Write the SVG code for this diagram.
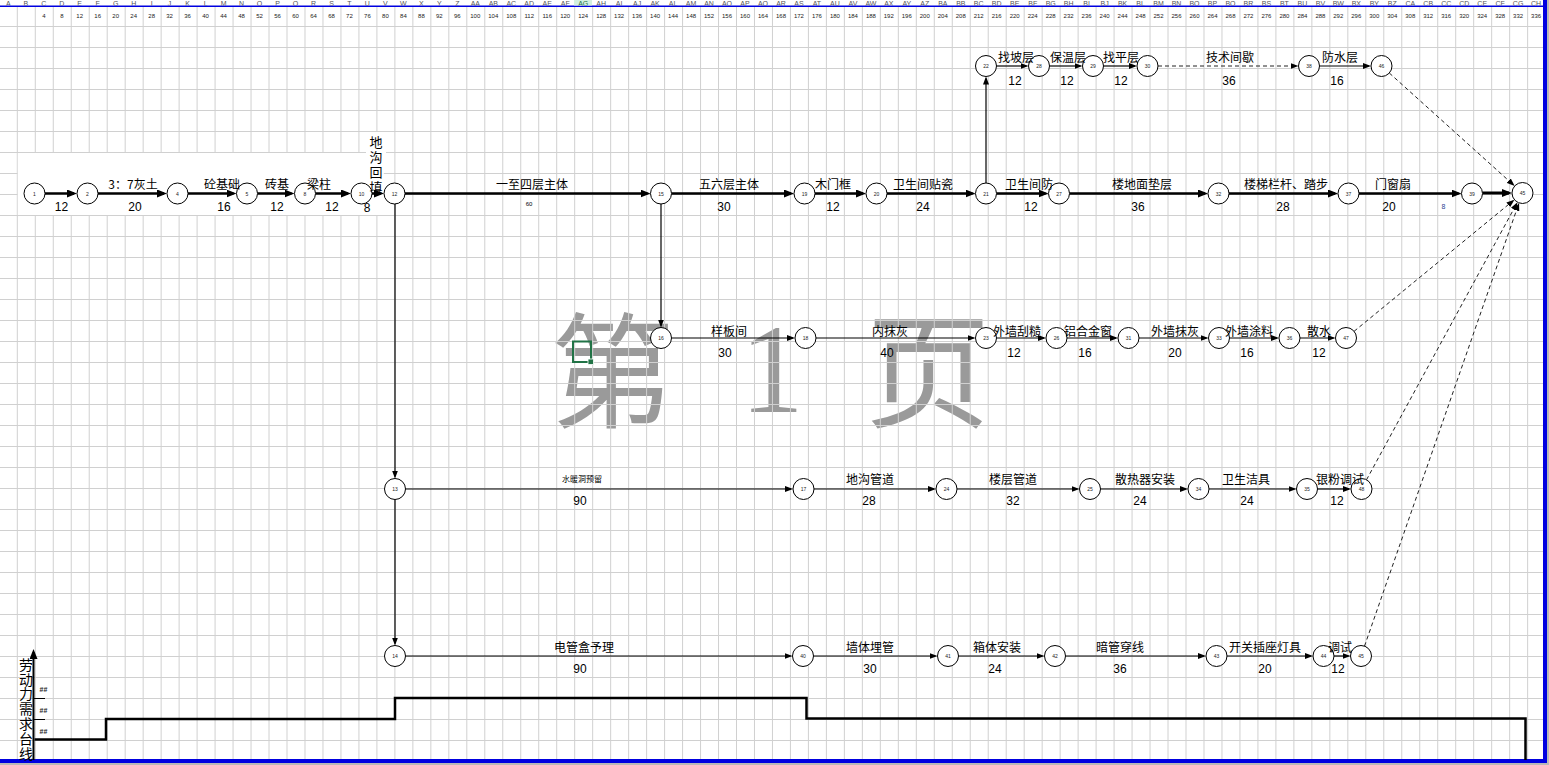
<svg xmlns="http://www.w3.org/2000/svg" width="1549" height="765" viewBox="0 0 1549 765">
<defs>
<style>
.nd circle{fill:#fff;stroke:#000;stroke-width:1}
.nd text{font-family:"Liberation Sans",sans-serif;font-size:5px;text-anchor:middle;fill:#222}
.t{font-family:"Noto Sans CJK SC",sans-serif;font-size:12px;text-anchor:middle;fill:#000}
.n{font-family:"Liberation Sans",sans-serif;font-size:12px;text-anchor:middle;fill:#000}
.hd{font-family:"Liberation Sans",sans-serif;font-size:7px;text-anchor:middle;fill:#555}
.hn{font-family:"Liberation Sans",sans-serif;font-size:6px;text-anchor:middle;fill:#222}
.thk{stroke:#000;stroke-width:2.5;fill:none;marker-end:url(#at)}
.thn{stroke:#000;stroke-width:1.2;fill:none;marker-end:url(#an)}
.dsh{stroke:#222;stroke-width:1;stroke-dasharray:4 3;fill:none;marker-end:url(#an)}
.wm{font-family:"Noto Sans CJK SC",sans-serif;font-size:125px;fill:#9a9a9a;text-anchor:middle}
</style>
<marker id="at" viewBox="0 0 10 8" refX="7" refY="4" markerWidth="10" markerHeight="8" markerUnits="userSpaceOnUse" orient="auto"><path d="M0,0 L10,4 L0,8 z" fill="#000"/></marker>
<marker id="an" viewBox="0 0 8 6" refX="6" refY="3" markerWidth="8" markerHeight="6" markerUnits="userSpaceOnUse" orient="auto"><path d="M0,0 L8,3 L0,6 z" fill="#000"/></marker>
<pattern id="g" x="16.8" y="26" width="17.98" height="21" patternUnits="userSpaceOnUse"><rect width="1" height="21" fill="#d0d0d0"/><rect width="17.98" height="1" fill="#d0d0d0"/></pattern>
<pattern id="gv" x="16.8" y="0" width="17.98" height="26" patternUnits="userSpaceOnUse"><rect width="1" height="26" fill="#d0d0d0"/></pattern>
<clipPath id="hc"><rect x="0" y="0" width="1543" height="5.5"/></clipPath>
<clipPath id="wc"><rect x="990" y="170" width="63" height="30"/></clipPath>
</defs>
<rect width="1549" height="765" fill="#fff"/>
<g id="watermark">
<text class="wm" x="612" y="418">第</text>
<text class="wm" x="772" y="412" style="font-family:'Liberation Serif',serif;font-size:128px">1</text>
<text class="wm" x="928" y="418">页</text>
</g>
<g id="grid">
<rect x="0" y="26" width="1543" height="734" fill="url(#g)"/>
<rect x="0" y="6" width="1543" height="20" fill="url(#gv)"/>
<rect x="17.8" y="153" width="366" height="62" fill="#fff"/>
<rect x="366" y="132" width="20" height="21" fill="#fff"/>
<rect x="0" y="5.5" width="1543" height="1.5" fill="#0000e0"/>
<rect x="1543" y="0" width="4" height="765" fill="#0000e0"/>
<rect x="1547" y="0" width="2" height="765" fill="#b8b8b8"/>
<rect x="0" y="759" width="1547" height="4" fill="#0000e0"/>
<rect x="0" y="763" width="1549" height="2" fill="#b8b8b8"/>
<rect x="574" y="0" width="18" height="5.5" fill="#d3f0e0"/>
</g>
<g id="header" clip-path="url(#hc)">
<text class="hd" x="8.4" y="6">A</text><text class="hd" x="25.8" y="6">B</text><text class="hd" x="43.8" y="6">C</text><text class="hd" x="61.8" y="6">D</text><text class="hd" x="79.7" y="6">E</text><text class="hd" x="97.7" y="6">F</text><text class="hd" x="115.7" y="6">G</text><text class="hd" x="133.7" y="6">H</text><text class="hd" x="151.7" y="6">I</text><text class="hd" x="169.6" y="6">J</text><text class="hd" x="187.6" y="6">K</text><text class="hd" x="205.6" y="6">L</text><text class="hd" x="223.6" y="6">M</text><text class="hd" x="241.6" y="6">N</text><text class="hd" x="259.5" y="6">O</text><text class="hd" x="277.5" y="6">P</text><text class="hd" x="295.5" y="6">Q</text><text class="hd" x="313.5" y="6">R</text><text class="hd" x="331.5" y="6">S</text><text class="hd" x="349.4" y="6">T</text><text class="hd" x="367.4" y="6">U</text><text class="hd" x="385.4" y="6">V</text><text class="hd" x="403.4" y="6">W</text><text class="hd" x="421.4" y="6">X</text><text class="hd" x="439.3" y="6">Y</text><text class="hd" x="457.3" y="6">Z</text><text class="hd" x="475.3" y="6">AA</text><text class="hd" x="493.3" y="6">AB</text><text class="hd" x="511.3" y="6">AC</text><text class="hd" x="529.2" y="6">AD</text><text class="hd" x="547.2" y="6">AE</text><text class="hd" x="565.2" y="6">AF</text><text class="hd" x="583.2" y="6" style="fill:#217346">AG</text><text class="hd" x="601.2" y="6">AH</text><text class="hd" x="619.1" y="6">AI</text><text class="hd" x="637.1" y="6">AJ</text><text class="hd" x="655.1" y="6">AK</text><text class="hd" x="673.1" y="6">AL</text><text class="hd" x="691.1" y="6">AM</text><text class="hd" x="709" y="6">AN</text><text class="hd" x="727" y="6">AO</text><text class="hd" x="745" y="6">AP</text><text class="hd" x="763" y="6">AQ</text><text class="hd" x="781" y="6">AR</text><text class="hd" x="798.9" y="6">AS</text><text class="hd" x="816.9" y="6">AT</text><text class="hd" x="834.9" y="6">AU</text><text class="hd" x="852.9" y="6">AV</text><text class="hd" x="870.9" y="6">AW</text><text class="hd" x="888.8" y="6">AX</text><text class="hd" x="906.8" y="6">AY</text><text class="hd" x="924.8" y="6">AZ</text><text class="hd" x="942.8" y="6">BA</text><text class="hd" x="960.8" y="6">BB</text><text class="hd" x="978.7" y="6">BC</text><text class="hd" x="996.7" y="6">BD</text><text class="hd" x="1014.7" y="6">BE</text><text class="hd" x="1032.7" y="6">BF</text><text class="hd" x="1050.7" y="6">BG</text><text class="hd" x="1068.6" y="6">BH</text><text class="hd" x="1086.6" y="6">BI</text><text class="hd" x="1104.6" y="6">BJ</text><text class="hd" x="1122.6" y="6">BK</text><text class="hd" x="1140.6" y="6">BL</text><text class="hd" x="1158.5" y="6">BM</text><text class="hd" x="1176.5" y="6">BN</text><text class="hd" x="1194.5" y="6">BO</text><text class="hd" x="1212.5" y="6">BP</text><text class="hd" x="1230.5" y="6">BQ</text><text class="hd" x="1248.4" y="6">BR</text><text class="hd" x="1266.4" y="6">BS</text><text class="hd" x="1284.4" y="6">BT</text><text class="hd" x="1302.4" y="6">BU</text><text class="hd" x="1320.4" y="6">BV</text><text class="hd" x="1338.3" y="6">BW</text><text class="hd" x="1356.3" y="6">BX</text><text class="hd" x="1374.3" y="6">BY</text><text class="hd" x="1392.3" y="6">BZ</text><text class="hd" x="1410.3" y="6">CA</text><text class="hd" x="1428.2" y="6">CB</text><text class="hd" x="1446.2" y="6">CC</text><text class="hd" x="1464.2" y="6">CD</text><text class="hd" x="1482.2" y="6">CE</text><text class="hd" x="1500.2" y="6">CF</text><text class="hd" x="1518.1" y="6">CG</text><text class="hd" x="1536.1" y="6">CH</text>
</g>
<g id="numbers">
<text class="hn" x="43.8" y="17.5">4</text><text class="hn" x="61.8" y="17.5">8</text><text class="hn" x="79.7" y="17.5">12</text><text class="hn" x="97.7" y="17.5">16</text><text class="hn" x="115.7" y="17.5">20</text><text class="hn" x="133.7" y="17.5">24</text><text class="hn" x="151.7" y="17.5">28</text><text class="hn" x="169.6" y="17.5">32</text><text class="hn" x="187.6" y="17.5">36</text><text class="hn" x="205.6" y="17.5">40</text><text class="hn" x="223.6" y="17.5">44</text><text class="hn" x="241.6" y="17.5">48</text><text class="hn" x="259.5" y="17.5">52</text><text class="hn" x="277.5" y="17.5">56</text><text class="hn" x="295.5" y="17.5">60</text><text class="hn" x="313.5" y="17.5">64</text><text class="hn" x="331.5" y="17.5">68</text><text class="hn" x="349.4" y="17.5">72</text><text class="hn" x="367.4" y="17.5">76</text><text class="hn" x="385.4" y="17.5">80</text><text class="hn" x="403.4" y="17.5">84</text><text class="hn" x="421.4" y="17.5">88</text><text class="hn" x="439.3" y="17.5">92</text><text class="hn" x="457.3" y="17.5">96</text><text class="hn" x="475.3" y="17.5">100</text><text class="hn" x="493.3" y="17.5">104</text><text class="hn" x="511.3" y="17.5">108</text><text class="hn" x="529.2" y="17.5">112</text><text class="hn" x="547.2" y="17.5">116</text><text class="hn" x="565.2" y="17.5">120</text><text class="hn" x="583.2" y="17.5">124</text><text class="hn" x="601.2" y="17.5">128</text><text class="hn" x="619.1" y="17.5">132</text><text class="hn" x="637.1" y="17.5">136</text><text class="hn" x="655.1" y="17.5">140</text><text class="hn" x="673.1" y="17.5">144</text><text class="hn" x="691.1" y="17.5">148</text><text class="hn" x="709" y="17.5">152</text><text class="hn" x="727" y="17.5">156</text><text class="hn" x="745" y="17.5">160</text><text class="hn" x="763" y="17.5">164</text><text class="hn" x="781" y="17.5">168</text><text class="hn" x="798.9" y="17.5">172</text><text class="hn" x="816.9" y="17.5">176</text><text class="hn" x="834.9" y="17.5">180</text><text class="hn" x="852.9" y="17.5">184</text><text class="hn" x="870.9" y="17.5">188</text><text class="hn" x="888.8" y="17.5">192</text><text class="hn" x="906.8" y="17.5">196</text><text class="hn" x="924.8" y="17.5">200</text><text class="hn" x="942.8" y="17.5">204</text><text class="hn" x="960.8" y="17.5">208</text><text class="hn" x="978.7" y="17.5">212</text><text class="hn" x="996.7" y="17.5">216</text><text class="hn" x="1014.7" y="17.5">220</text><text class="hn" x="1032.7" y="17.5">224</text><text class="hn" x="1050.7" y="17.5">228</text><text class="hn" x="1068.6" y="17.5">232</text><text class="hn" x="1086.6" y="17.5">236</text><text class="hn" x="1104.6" y="17.5">240</text><text class="hn" x="1122.6" y="17.5">244</text><text class="hn" x="1140.6" y="17.5">248</text><text class="hn" x="1158.5" y="17.5">252</text><text class="hn" x="1176.5" y="17.5">256</text><text class="hn" x="1194.5" y="17.5">260</text><text class="hn" x="1212.5" y="17.5">264</text><text class="hn" x="1230.5" y="17.5">268</text><text class="hn" x="1248.4" y="17.5">272</text><text class="hn" x="1266.4" y="17.5">276</text><text class="hn" x="1284.4" y="17.5">280</text><text class="hn" x="1302.4" y="17.5">284</text><text class="hn" x="1320.4" y="17.5">288</text><text class="hn" x="1338.3" y="17.5">292</text><text class="hn" x="1356.3" y="17.5">296</text><text class="hn" x="1374.3" y="17.5">300</text><text class="hn" x="1392.3" y="17.5">304</text><text class="hn" x="1410.3" y="17.5">308</text><text class="hn" x="1428.2" y="17.5">312</text><text class="hn" x="1446.2" y="17.5">316</text><text class="hn" x="1464.2" y="17.5">320</text><text class="hn" x="1482.2" y="17.5">324</text><text class="hn" x="1500.2" y="17.5">328</text><text class="hn" x="1518.1" y="17.5">332</text><text class="hn" x="1536.1" y="17.5">336</text>
</g>
<g id="selection">
<rect x="573" y="341.5" width="18" height="20.5" fill="none" stroke="#217346" stroke-width="2"/>
<rect x="588" y="359" width="5.5" height="5.5" fill="#217346" stroke="#fff" stroke-width="0.8"/>
</g>
<g id="connectors">
<line class="thk" x1="45" y1="193.5" x2="74" y2="193.5"/>
<line class="thk" x1="98" y1="193.5" x2="164" y2="193.5"/>
<line class="thk" x1="188" y1="193.5" x2="233.5" y2="193.5"/>
<line class="thk" x1="257.5" y1="193.5" x2="291.5" y2="193.5"/>
<line class="thk" x1="315.5" y1="193.5" x2="348" y2="193.5"/>
<line class="thk" x1="372" y1="193.5" x2="381" y2="193.5"/>
<line class="thk" x1="405" y1="193.5" x2="647.5" y2="193.5"/>
<line class="thk" x1="671.5" y1="193.5" x2="791" y2="193.5"/>
<line class="thk" x1="815" y1="193.5" x2="863" y2="193.5"/>
<line class="thk" x1="887" y1="193.5" x2="972.5" y2="193.5"/>
<line class="thk" x1="996.5" y1="193.5" x2="1045.5" y2="193.5"/>
<line class="thk" x1="1069.5" y1="193.5" x2="1205" y2="193.5"/>
<line class="thk" x1="1229" y1="193.5" x2="1335" y2="193.5"/>
<line class="thk" x1="1359" y1="193.5" x2="1458.5" y2="193.5"/>
<line class="thk" style="stroke-width:3" x1="1482.5" y1="193" x2="1509" y2="193"/>
<line class="thn" x1="996.5" y1="66" x2="1026.5" y2="66"/>
<line class="thn" x1="1049.5" y1="66" x2="1080.5" y2="66"/>
<line class="thn" x1="1103.5" y1="66" x2="1135" y2="66"/>
<line class="dsh" x1="1158" y1="66" x2="1296.5" y2="66"/>
<line class="thn" x1="1319.5" y1="66" x2="1369" y2="66"/>
<line class="thn" x1="671.5" y1="338" x2="793" y2="338"/>
<line class="thn" x1="816" y1="338" x2="973.5" y2="338"/>
<line class="thn" x1="996.5" y1="338" x2="1044" y2="338"/>
<line class="thn" x1="1067" y1="338" x2="1116" y2="338"/>
<line class="thn" x1="1139" y1="338" x2="1206.5" y2="338"/>
<line class="thn" x1="1229.5" y1="338" x2="1277" y2="338"/>
<line class="thn" x1="1300" y1="338" x2="1333.5" y2="338"/>
<line class="thn" x1="405.5" y1="489" x2="791" y2="489"/>
<line class="thn" x1="814" y1="489" x2="934" y2="489"/>
<line class="thn" x1="957" y1="489" x2="1077.5" y2="489"/>
<line class="thn" x1="1100.5" y1="489" x2="1186" y2="489"/>
<line class="thn" x1="1209" y1="489" x2="1294.5" y2="489"/>
<line class="thn" x1="1317.5" y1="489" x2="1349" y2="489"/>
<line class="thn" x1="405.5" y1="656" x2="790.5" y2="656"/>
<line class="thn" x1="813.5" y1="656" x2="935.5" y2="656"/>
<line class="thn" x1="958.5" y1="656" x2="1042.5" y2="656"/>
<line class="thn" x1="1065.5" y1="656" x2="1204" y2="656"/>
<line class="thn" x1="1227" y1="656" x2="1311" y2="656"/>
<line class="thn" x1="1334" y1="656" x2="1348.5" y2="656"/>
<line class="thn" x1="395" y1="204" x2="395" y2="476.5"/>
<line class="thn" x1="395" y1="499.5" x2="395" y2="643.5"/>
<line class="thn" x1="661" y1="204" x2="661" y2="325.5"/>
<line class="thn" x1="986" y1="183" x2="986" y2="78.5"/>
<line class="dsh" x1="1389.3" y1="73" x2="1513.2" y2="184.7"/>
<line class="dsh" x1="1354.1" y1="331.3" x2="1512.9" y2="200.9"/>
<line class="dsh" x1="1366.5" y1="479.8" x2="1516.5" y2="204"/>
<line class="dsh" x1="1364.5" y1="646.1" x2="1518.4" y2="204.8"/>
</g>
<g id="labor">
<line x1="33.5" y1="760" x2="33.5" y2="652" stroke="#000" stroke-width="2" marker-end="url(#at)"/>
<line x1="34" y1="698.5" x2="45" y2="698.5" stroke="#000" stroke-width="1"/>
<line x1="34" y1="719.5" x2="45" y2="719.5" stroke="#000" stroke-width="1"/>
<text class="hn" x="43.5" y="691.5" style="font-size:7px;font-weight:bold">##</text>
<text class="hn" x="43.5" y="712.5" style="font-size:7px;font-weight:bold">##</text>
<text class="hn" x="43.5" y="733.5" style="font-size:7px;font-weight:bold">##</text>
<text class="t" style="font-size:14px" x="26 26 26 26 26 26 26" y="670 685 699 714 729 744 759">劳动力需求台线</text>
<polyline points="34.5,739.5 106,739.5 106,719 395,719 395,698 806.5,698 806.5,718.5 1525.5,718.5 1525.5,760" fill="none" stroke="#000" stroke-width="2.5"/>
</g>
<g id="n1" class="nd"><circle cx="34.5" cy="193.5" r="10.5"/><text x="34.5" y="195.5">1</text></g>
<g id="n2" class="nd"><circle cx="87.5" cy="193.5" r="10.5"/><text x="87.5" y="195.5">2</text></g>
<g id="n4" class="nd"><circle cx="177.5" cy="193.5" r="10.5"/><text x="177.5" y="195.5">4</text></g>
<g id="n5" class="nd"><circle cx="247" cy="193.5" r="10.5"/><text x="247" y="195.5">5</text></g>
<g id="n8" class="nd"><circle cx="305" cy="193.5" r="10.5"/><text x="305" y="195.5">8</text></g>
<g id="n10" class="nd"><circle cx="361.5" cy="193.5" r="10.5"/><text x="361.5" y="195.5">10</text></g>
<g id="n12" class="nd"><circle cx="394.5" cy="193.5" r="10.5"/><text x="394.5" y="195.5">12</text></g>
<g id="n15" class="nd"><circle cx="661" cy="193.5" r="10.5"/><text x="661" y="195.5">15</text></g>
<g id="n19" class="nd"><circle cx="804.5" cy="193.5" r="10.5"/><text x="804.5" y="195.5">19</text></g>
<g id="n20" class="nd"><circle cx="876.5" cy="193.5" r="10.5"/><text x="876.5" y="195.5">20</text></g>
<g id="n21" class="nd"><circle cx="986" cy="193.5" r="10.5"/><text x="986" y="195.5">21</text></g>
<g id="n27" class="nd"><circle cx="1059" cy="193.5" r="10.5"/><text x="1059" y="195.5">27</text></g>
<g id="n32" class="nd"><circle cx="1218.5" cy="193.5" r="10.5"/><text x="1218.5" y="195.5">32</text></g>
<g id="n37" class="nd"><circle cx="1348.5" cy="193.5" r="10.5"/><text x="1348.5" y="195.5">37</text></g>
<g id="n39" class="nd"><circle cx="1472" cy="193.5" r="10.5"/><text x="1472" y="195.5">39</text></g>
<g id="n45" class="nd"><circle cx="1522.5" cy="193" r="10.5"/><text x="1522.5" y="195">45</text></g>
<g id="n22" class="nd"><circle cx="986" cy="66" r="10.5"/><text x="986" y="68">22</text></g>
<g id="n28" class="nd"><circle cx="1039" cy="66" r="10.5"/><text x="1039" y="68">28</text></g>
<g id="n29" class="nd"><circle cx="1093" cy="66" r="10.5"/><text x="1093" y="68">29</text></g>
<g id="n30" class="nd"><circle cx="1147.5" cy="66" r="10.5"/><text x="1147.5" y="68">30</text></g>
<g id="n38" class="nd"><circle cx="1309" cy="66" r="10.5"/><text x="1309" y="68">38</text></g>
<g id="n46" class="nd"><circle cx="1381.5" cy="66" r="10.5"/><text x="1381.5" y="68">46</text></g>
<g id="n16" class="nd"><circle cx="661" cy="338" r="10.5"/><text x="661" y="340">16</text></g>
<g id="n18" class="nd"><circle cx="805.5" cy="338" r="10.5"/><text x="805.5" y="340">18</text></g>
<g id="n23" class="nd"><circle cx="986" cy="338" r="10.5"/><text x="986" y="340">23</text></g>
<g id="n26" class="nd"><circle cx="1056.5" cy="338" r="10.5"/><text x="1056.5" y="340">26</text></g>
<g id="n31" class="nd"><circle cx="1128.5" cy="338" r="10.5"/><text x="1128.5" y="340">31</text></g>
<g id="n33" class="nd"><circle cx="1219" cy="338" r="10.5"/><text x="1219" y="340">33</text></g>
<g id="n36" class="nd"><circle cx="1289.5" cy="338" r="10.5"/><text x="1289.5" y="340">36</text></g>
<g id="n47" class="nd"><circle cx="1346" cy="338" r="10.5"/><text x="1346" y="340">47</text></g>
<g id="n13" class="nd"><circle cx="395" cy="489" r="10.5"/><text x="395" y="491">13</text></g>
<g id="n17" class="nd"><circle cx="803.5" cy="489" r="10.5"/><text x="803.5" y="491">17</text></g>
<g id="n24" class="nd"><circle cx="946.5" cy="489" r="10.5"/><text x="946.5" y="491">24</text></g>
<g id="n25" class="nd"><circle cx="1090" cy="489" r="10.5"/><text x="1090" y="491">25</text></g>
<g id="n34" class="nd"><circle cx="1198.5" cy="489" r="10.5"/><text x="1198.5" y="491">34</text></g>
<g id="n35" class="nd"><circle cx="1307" cy="489" r="10.5"/><text x="1307" y="491">35</text></g>
<g id="n48" class="nd"><circle cx="1361.5" cy="489" r="10.5"/><text x="1361.5" y="491">48</text></g>
<g id="n14" class="nd"><circle cx="395" cy="656" r="10.5"/><text x="395" y="658">14</text></g>
<g id="n40" class="nd"><circle cx="803" cy="656" r="10.5"/><text x="803" y="658">40</text></g>
<g id="n41" class="nd"><circle cx="948" cy="656" r="10.5"/><text x="948" y="658">41</text></g>
<g id="n42" class="nd"><circle cx="1055" cy="656" r="10.5"/><text x="1055" y="658">42</text></g>
<g id="n43" class="nd"><circle cx="1216.5" cy="656" r="10.5"/><text x="1216.5" y="658">43</text></g>
<g id="n44" class="nd"><circle cx="1323.5" cy="656" r="10.5"/><text x="1323.5" y="658">44</text></g>
<g id="n45b" class="nd"><circle cx="1361" cy="656" r="10.5"/><text x="1361" y="658">45</text></g>
<g id="labels">
<text class="n" x="61.5" y="211">12</text>
<text class="t" x="133" y="189">3：7灰土</text><text class="n" x="135" y="211">20</text>
<text class="t" x="222" y="189">砼基础</text><text class="n" x="224" y="211">16</text>
<text class="t" x="277" y="189">砖基</text><text class="n" x="277" y="211">12</text>
<text class="t" x="319" y="189">梁柱</text><text class="n" x="332" y="211">12</text>
<text class="n" x="367" y="212">8</text>
<text class="t" style="font-size:13px" x="376 376 376 376" y="147 162 177 192">地沟回填</text>
<text class="t" x="532" y="189">一至四层主体</text><text class="n" x="529" y="206" style="font-size:6px">60</text>
<text class="t" x="729" y="189">五六层主体</text><text class="n" x="724" y="211">30</text>
<text class="t" x="833" y="189">木门框</text><text class="n" x="833" y="211">12</text>
<text class="t" x="923" y="189">卫生间贴瓷</text><text class="n" x="923" y="211">24</text>
<text class="t" x="1005" y="189" style="text-anchor:start" clip-path="url(#wc)">卫生间防水</text><text class="n" x="1031" y="211">12</text>
<text class="t" x="1142" y="189">楼地面垫层</text><text class="n" x="1138" y="211">36</text>
<text class="t" x="1286" y="189">楼梯栏杆、踏步</text><text class="n" x="1283" y="211">28</text>
<text class="t" x="1393" y="189">门窗扇</text><text class="n" x="1389" y="211">20</text>
<text class="n" x="1443.5" y="209" style="font-size:7px;fill:#2a3f8f">8</text>
<text class="t" x="1016" y="62">找坡层</text><text class="n" x="1015" y="84.5">12</text>
<text class="t" x="1068" y="62">保温层</text><text class="n" x="1067" y="84.5">12</text>
<text class="t" x="1121" y="62">找平层</text><text class="n" x="1121" y="84.5">12</text>
<text class="t" x="1230" y="62">技术间歇</text><text class="n" x="1229" y="84.5">36</text>
<text class="t" x="1340" y="62">防水层</text><text class="n" x="1337" y="84.5">16</text>
<text class="t" x="729" y="336">样板间</text><text class="n" x="725" y="356.5">30</text>
<text class="t" x="890" y="336">内抹灰</text><text class="n" x="887" y="356.5">40</text>
<text class="t" x="1017" y="336">外墙刮糙</text><text class="n" x="1014" y="356.5">12</text>
<text class="t" x="1088" y="336">铝合金窗</text><text class="n" x="1085" y="356.5">16</text>
<text class="t" x="1175" y="336">外墙抹灰</text><text class="n" x="1175" y="356.5">20</text>
<text class="t" x="1249" y="336">外墙涂料</text><text class="n" x="1247" y="356.5">16</text>
<text class="t" x="1319" y="336">散水</text><text class="n" x="1319" y="356.5">12</text>
<text class="t" x="582" y="482" style="font-size:8px">水暖洞预留</text><text class="n" x="580" y="504.5">90</text>
<text class="t" x="870" y="484">地沟管道</text><text class="n" x="869" y="504.5">28</text>
<text class="t" x="1013" y="484">楼层管道</text><text class="n" x="1013" y="504.5">32</text>
<text class="t" x="1145" y="484">散热器安装</text><text class="n" x="1140" y="504.5">24</text>
<text class="t" x="1246" y="484">卫生洁具</text><text class="n" x="1247" y="504.5">24</text>
<text class="t" x="1340" y="484">银粉调试</text><text class="n" x="1337" y="504.5">12</text>
<text class="t" x="584" y="652">电管盒予理</text><text class="n" x="580" y="672.5">90</text>
<text class="t" x="870" y="652">墙体埋管</text><text class="n" x="870" y="672.5">30</text>
<text class="t" x="997" y="652">箱体安装</text><text class="n" x="995" y="672.5">24</text>
<text class="t" x="1120" y="652">暗管穿线</text><text class="n" x="1120" y="672.5">36</text>
<text class="t" x="1265" y="652">开关插座灯具</text><text class="n" x="1265" y="672.5">20</text>
<text class="t" x="1340" y="652">调试</text><text class="n" x="1338" y="672.5">12</text>
</g>
</svg>
